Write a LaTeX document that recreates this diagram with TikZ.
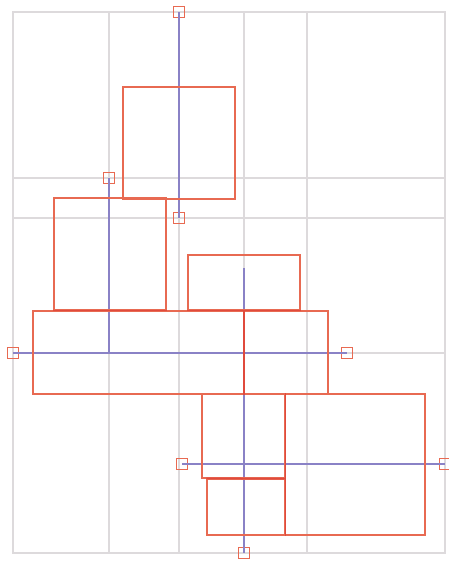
\documentclass[tikz,border=0pt]{standalone}
\definecolor{gridc}{HTML}{DDDADC}
\definecolor{boxc}{HTML}{E86A52}
\definecolor{axc}{HTML}{8A82C6}
\definecolor{redc}{HTML}{E04A3C}
\begin{document}
\begin{tikzpicture}[x=1pt,y=-1pt,
  gridline/.style={draw=gridc,line width=1.2pt},
  boxr/.style={draw=boxc,line width=1.1pt},
  axis/.style={draw=axc,line width=1.4pt},
  marker/.style={draw=boxc,line width=1.1pt,minimum size=11pt,inner sep=0pt,outer sep=0pt,rectangle}]
\useasboundingbox (0,0) rectangle (449,563);
% grid
\draw[gridline] (13,12) rectangle (445,553);
\foreach \x in {109,179,244,307} \draw[gridline] (\x,12) -- (\x,553);
\foreach \y in {178,218,353} \draw[gridline] (13,\y) -- (445,\y);
% markers (positions)
\node[marker] (m1) at (179,12) {};
\node[marker] (m2) at (179,218) {};
\node[marker] (m3) at (109,178) {};
\node[marker] (m4) at (13,353) {};
\node[marker] (m5) at (347,353) {};
\node[marker] (m6) at (244,553) {};
\node[marker] (m7) at (182,464) {};
\node[marker] (m8) at (445,464) {};
\coordinate (c3) at (109,353);
\coordinate (c6) at (244,268);
% blue axes
\draw[axis] (m1.center) -- (m2.center);
\draw[axis] (m3.center) -- (c3);
\draw[axis] (m4.center) -- (m5.center);
\draw[axis] (c6) -- (m6.center);
\draw[axis] (m7.center) -- (m8.center);
% rectangles
\node[boxr,minimum width=112pt,minimum height=112pt,inner sep=0pt] (ra) at (179,143) {};
\node[boxr,minimum width=112pt,minimum height=112pt,inner sep=0pt] (rb) at (110,254) {};
\node[boxr,minimum width=112pt,minimum height=55pt,inner sep=0pt] (rc) at (244,282.5) {};
\node[boxr,minimum width=295pt,minimum height=83pt,inner sep=0pt] (rd) at (180.5,352.5) {};
\node[boxr,minimum width=83pt,minimum height=84pt,inner sep=0pt] (re) at (243.5,436) {};
\node[boxr,minimum width=78pt,minimum height=56pt,inner sep=0pt] (rf) at (246,507) {};
\node[boxr,minimum width=140pt,minimum height=141pt,inner sep=0pt] (rg) at (355,464.5) {};
% red overlay segments
\draw[draw=redc,line width=1.5pt] (rd.north -| c6) -- (rd.south -| c6);
\draw[draw=redc,line width=1.5pt] (rb.south west) -- (rb.south east);
\draw[draw=redc,line width=1.5pt] (rc.south west) -- (rc.south east);
\draw[draw=redc,line width=1.5pt] (rf.north west) -- (re.south east);
\draw[draw=redc,line width=1.3pt] (re.north east) -- (rf.south east);
\end{tikzpicture}
\end{document}
